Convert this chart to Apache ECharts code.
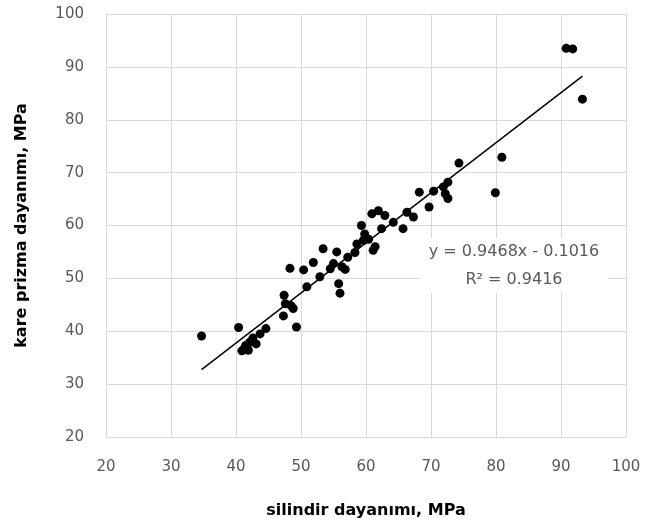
<!DOCTYPE html>
<html>
<head>
<meta charset="utf-8">
<script src="https://cdn.jsdelivr.net/npm/echarts@6/dist/echarts.min.js"></script>
<style>html,body{margin:0;padding:0;background:#fff}#c{width:654px;height:526px}</style>
</head>
<body>
<div id="c"></div>
<script>
// silindir dayanımı (x, MPa)
const xValues = [34.7, 40.4, 40.9, 41.3, 41.9, 42.1, 42.6, 43.1, 43.7, 44.6, 41.5,
  47.3, 47.4, 47.6, 48.5, 48.8, 49.3, 48.3, 50.4, 50.9, 51.9, 52.9, 53.4, 54.5, 55.0,
  55.5, 55.8, 56.0, 56.3, 56.8, 57.2, 58.3, 58.6, 59.6, 59.3, 59.8, 60.4, 61.1, 61.4,
  60.9, 61.9, 62.9, 62.4, 64.2, 65.7, 66.3, 67.3, 68.2, 69.7, 70.4, 71.9, 72.2, 72.6,
  72.6, 74.3, 79.9, 80.9, 90.8, 91.8, 93.3];
// kare prizma dayanımı (y, MPa)
const yValues = [39.1, 40.7, 36.3, 36.8, 36.4, 37.9, 38.7, 37.6, 39.5, 40.5, 37.3,
  42.9, 46.8, 45.2, 44.8, 44.3, 40.8, 51.9, 51.6, 48.4, 53.0, 50.3, 55.6, 51.8, 52.8,
  55.0, 49.0, 47.2, 52.2, 51.7, 54.0, 54.9, 56.5, 57.2, 60.0, 58.4, 57.4, 55.3, 56.0,
  62.2, 62.8, 61.9, 59.4, 60.6, 59.4, 62.5, 61.6, 66.3, 63.5, 66.5, 67.3, 66.0, 68.2,
  65.1, 71.8, 66.2, 72.9, 93.5, 93.4, 83.9];
const slope = 0.9468;
const intercept = -0.1016;
const r2 = 0.9416;
const trendX = [Math.min(...xValues), Math.max(...xValues)];
const xTicks = [20, 30, 40, 50, 60, 70, 80, 90, 100];
const yTicks = [20, 30, 40, 50, 60, 70, 80, 90, 100];
const xTitle = 'silindir dayanımı, MPa';
const yTitle = 'kare prizma dayanımı, MPa';

const points = xValues.map((x, i) => [x, yValues[i]]);
const trend = trendX.map(x => [x, slope * x + intercept]);
const eqText = 'y = ' + slope.toFixed(4) + 'x - ' + Math.abs(intercept).toFixed(4) + '\nR² = ' + r2.toFixed(4);

const chart = echarts.init(document.getElementById('c'), null, {renderer: 'canvas'});
const gridColor = '#d9d9d9';
const tickColor = '#595959';
const font = '"DejaVu Sans", sans-serif';
chart.setOption({
  animation: false,
  backgroundColor: '#fff',
  grid: {left: 106, right: 28, top: 14, bottom: 89},
  xAxis: {
    type: 'value', min: xTicks[0], max: xTicks[xTicks.length - 1], interval: 10,
    name: xTitle, nameLocation: 'middle', nameGap: 66,
    nameTextStyle: {fontFamily: font, fontWeight: 'bold', fontSize: 16, color: '#000'},
    axisLine: {show: true, lineStyle: {color: gridColor}},
    axisTick: {show: false},
    axisLabel: {color: tickColor, fontFamily: font, fontSize: 15, margin: 23},
    splitLine: {show: true, lineStyle: {color: gridColor, width: 1}}
  },
  yAxis: {
    type: 'value', min: yTicks[0], max: yTicks[yTicks.length - 1], interval: 10,
    name: yTitle, nameLocation: 'middle', nameGap: 76,
    nameTextStyle: {fontFamily: font, fontWeight: 'bold', fontSize: 16, color: '#000'},
    axisLine: {show: true, lineStyle: {color: gridColor}},
    axisTick: {show: false},
    axisLabel: {color: tickColor, fontFamily: font, fontSize: 15, margin: 22},
    splitLine: {show: true, lineStyle: {color: gridColor, width: 1}}
  },
  series: [
    {
      type: 'scatter', data: points, symbol: 'circle', symbolSize: 9,
      itemStyle: {color: '#000', opacity: 1}, z: 3
    },
    {
      type: 'line', data: trend, symbol: 'none', silent: true,
      lineStyle: {color: '#000', width: 1.5}, z: 4
    }
  ],
  graphic: [
    {
      type: 'rect', shape: {x: 420, y: 238, width: 188, height: 55},
      style: {fill: '#fff'}, z: 10
    },
    {
      type: 'text', x: 514, y: 266, z: 11,
      style: {
        text: eqText, fill: tickColor, font: '16px ' + font,
        textAlign: 'center', textVerticalAlign: 'middle', lineHeight: 28
      }
    }
  ]
});
</script>
</body>
</html>
